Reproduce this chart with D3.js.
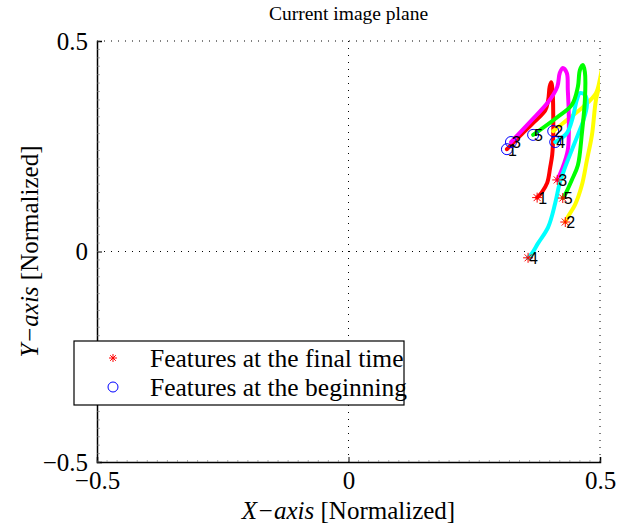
<!DOCTYPE html>
<html>
<head>
<meta charset="utf-8">
<script src="https://cdn.jsdelivr.net/npm/d3@7"></script>
<style>
  body { margin: 0; background: #fff; }
  text { font-family: "Liberation Serif", "Times New Roman", serif; }
  text.num { font-family: "Liberation Sans", Arial, sans-serif; }
</style>
</head>
<body>
<script>
// feature trajectories in normalized image coords, beginning -> final
var feature1 = [[0.315,0.243],[0.341,0.275],[0.371,0.31],[0.391,0.335],[0.397,0.36],[0.400,0.392],[0.403,0.402],[0.406,0.375],[0.407,0.325],[0.407,0.277],[0.405,0.23],[0.401,0.2],[0.395,0.163],[0.384,0.14],[0.375,0.128]];
var feature2 = [[0.407,0.286],[0.434,0.312],[0.466,0.343],[0.492,0.376],[0.500,0.41],[0.505,0.44],[0.502,0.41],[0.492,0.36],[0.484,0.277],[0.474,0.217],[0.464,0.158],[0.450,0.110],[0.436,0.082],[0.431,0.070]];
var feature3 = [[0.323,0.260],[0.361,0.308],[0.397,0.355],[0.415,0.391],[0.420,0.424],[0.426,0.436],[0.434,0.424],[0.436,0.384],[0.438,0.319],[0.436,0.241],[0.424,0.194],[0.415,0.170]];
var feature4 = [[0.411,0.260],[0.434,0.281],[0.446,0.319],[0.454,0.360],[0.460,0.376],[0.470,0.372],[0.474,0.348],[0.466,0.308],[0.456,0.277],[0.444,0.241],[0.430,0.198],[0.420,0.163],[0.411,0.115],[0.397,0.058],[0.377,0.020],[0.365,-0.004],[0.357,-0.015]];
var feature5 = [[0.367,0.277],[0.415,0.319],[0.444,0.348],[0.456,0.391],[0.460,0.431],[0.466,0.443],[0.470,0.426],[0.470,0.360],[0.464,0.281],[0.456,0.205],[0.444,0.170],[0.430,0.134],[0.426,0.127]];

var featureNames = ['1','2','3','4','5'];
var featureColors = ['#ff0000','#ffff00','#ff00ff','#00ffff','#00ff00'];
var features = [feature1, feature2, feature3, feature4, feature5];

var xTicks = [-0.5, 0, 0.5];
var yTicks = [-0.5, 0, 0.5];
var legendLabels = ['Features at the final time', 'Features at the beginning'];

var W = 631, H = 527;
var mLeft = 97, mRight = 600, mTop = 41, mBottom = 462;

var x = d3.scaleLinear().domain([-0.5, 0.5]).range([mLeft, mRight]);
var y = d3.scaleLinear().domain([-0.5, 0.5]).range([mBottom, mTop]);

var svg = d3.select('body').append('svg')
  .attr('width', W)
  .attr('height', H);

svg.append('clipPath').attr('id', 'clip')
  .append('rect')
  .attr('x', mLeft).attr('y', mTop)
  .attr('width', mRight - mLeft).attr('height', mBottom - mTop);

// dotted grid
svg.selectAll('line.gx')
  .data(xTicks.slice(1))
  .enter().append('line')
  .attr('x1', function(d){ return x(d); })
  .attr('x2', function(d){ return x(d); })
  .attr('y1', mTop).attr('y2', mBottom)
  .attr('stroke', '#000').attr('stroke-width', 1)
  .attr('stroke-dasharray', '1,6');

svg.selectAll('line.gy')
  .data(yTicks.slice(1))
  .enter().append('line')
  .attr('y1', function(d){ return y(d); })
  .attr('y2', function(d){ return y(d); })
  .attr('x1', mLeft).attr('x2', mRight)
  .attr('stroke', '#000').attr('stroke-width', 1)
  .attr('stroke-dasharray', '1,6');

// axes (MATLAB style ticks point inward)
var fmt = function(d){ return d === 0 ? '0' : d3.format('.1f')(d).replace('-', '\u2212'); };
var xAxis = d3.axisBottom(x).tickValues(xTicks).tickSize(-5).tickPadding(9).tickFormat(fmt);
var yAxis = d3.axisLeft(y).tickValues(yTicks).tickSize(-5).tickPadding(9).tickFormat(fmt);

var gx = svg.append('g').attr('transform', 'translate(0,' + mBottom + ')').call(xAxis);
var gy = svg.append('g').attr('transform', 'translate(' + mLeft + ',0)').call(yAxis);
[gx, gy].forEach(function(g){
  g.select('.domain').attr('stroke', '#000').attr('stroke-width', 1.5);
  g.selectAll('.tick line').attr('stroke', '#000');
  g.selectAll('.tick text')
    .attr('font-family', '"Liberation Serif", serif')
    .attr('font-size', 25)
    .attr('fill', '#000');
});

// minor ticks
var minor = d3.range(-0.5, 0.5001, 0.02);
svg.append('g').selectAll('line')
  .data(minor).enter().append('line')
  .attr('x1', mLeft).attr('x2', mLeft + 3)
  .attr('y1', function(d){ return y(d); })
  .attr('y2', function(d){ return y(d); })
  .attr('stroke', '#777').attr('stroke-width', 0.6);
svg.append('g').selectAll('line')
  .data(minor).enter().append('line')
  .attr('y1', mBottom).attr('y2', mBottom - 2)
  .attr('x1', function(d){ return x(d); })
  .attr('x2', function(d){ return x(d); })
  .attr('stroke', '#777').attr('stroke-width', 0.6);

// trajectories
var line = d3.line()
  .x(function(d){ return x(d[0]); })
  .y(function(d){ return y(d[1]); })
  .curve(d3.curveCatmullRom);

var plot = svg.append('g').attr('clip-path', 'url(#clip)');
plot.selectAll('path.traj')
  .data(features)
  .enter().append('path')
  .attr('d', line)
  .attr('fill', 'none')
  .attr('stroke', function(d, i){ return featureColors[i]; })
  .attr('stroke-width', 4)
  .attr('stroke-linejoin', 'round')
  .attr('stroke-linecap', 'round');

function star(g, cx, cy, r) {
  var s = g.append('g').attr('stroke', '#ff0000').attr('stroke-width', 1);
  s.append('line').attr('x1', cx - r).attr('x2', cx + r).attr('y1', cy).attr('y2', cy);
  s.append('line').attr('x1', cx).attr('x2', cx).attr('y1', cy - r).attr('y2', cy + r);
  s.append('line').attr('x1', cx - r*0.7).attr('x2', cx + r*0.7).attr('y1', cy - r*0.7).attr('y2', cy + r*0.7);
  s.append('line').attr('x1', cx - r*0.7).attr('x2', cx + r*0.7).attr('y1', cy + r*0.7).attr('y2', cy - r*0.7);
}

// beginning circles and labels
features.forEach(function(f, i){
  var p0 = f[0];
  svg.append('circle')
    .attr('cx', x(p0[0])).attr('cy', y(p0[1])).attr('r', 5.5)
    .attr('fill', 'none').attr('stroke', '#0000ff').attr('stroke-width', 1);
  svg.append('text')
    .attr('class', 'num')
    .attr('x', x(p0[0]) + 1).attr('y', y(p0[1]))
    .attr('dy', '0.4em')
    .attr('font-size', 16)
    .text(featureNames[i]);
});

// final stars and labels
features.forEach(function(f, i){
  var p1 = f[f.length - 1];
  star(svg, x(p1[0]), y(p1[1]), 5);
  svg.append('text')
    .attr('class', 'num')
    .attr('x', x(p1[0]) + 1).attr('y', y(p1[1]))
    .attr('dy', '0.4em')
    .attr('font-size', 16)
    .text(featureNames[i]);
});

// title and axis labels
svg.append('text')
  .attr('x', (mLeft + mRight) / 2).attr('y', 20)
  .attr('text-anchor', 'middle')
  .attr('font-size', 19.5)
  .text('Current image plane');

var xl = svg.append('text')
  .attr('x', (mLeft + mRight) / 2).attr('y', 519)
  .attr('text-anchor', 'middle')
  .attr('font-size', 25);
xl.append('tspan').attr('font-style', 'italic').text('X\u2212axis');
xl.append('tspan').text(' [Normalized]');

var yl = svg.append('text')
  .attr('transform', 'translate(38,' + ((mTop + mBottom) / 2) + ') rotate(-90)')
  .attr('text-anchor', 'middle')
  .attr('font-size', 25);
yl.append('tspan').attr('font-style', 'italic').text('Y\u2212axis');
yl.append('tspan').text(' [Normalized]');

// legend
var lg = svg.append('g');
lg.append('rect')
  .attr('x', 74).attr('y', 341).attr('width', 330).attr('height', 64)
  .attr('fill', '#fff').attr('stroke', '#000').attr('stroke-width', 1.2);
star(lg, 113, 358, 4);
lg.append('circle').attr('cx', 113).attr('cy', 387).attr('r', 5)
  .attr('fill', 'none').attr('stroke', '#0000ff');
lg.selectAll('text.leg')
  .data(legendLabels)
  .enter().append('text')
  .attr('x', 150)
  .attr('y', function(d, i){ return 358 + i * 29; })
  .attr('dy', '0.35em')
  .attr('font-size', 25.5)
  .text(function(d){ return d; });
</script>
</body>
</html>
